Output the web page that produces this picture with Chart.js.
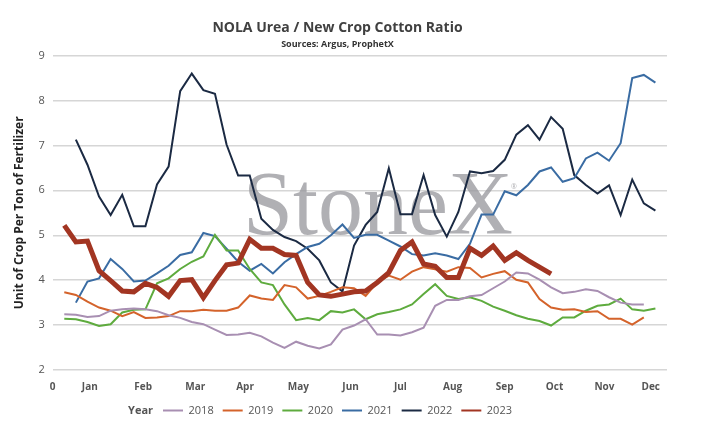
<!DOCTYPE html>
<html>
<head>
<meta charset="utf-8">
<script src="https://cdn.jsdelivr.net/npm/chart.js@4"></script>
<style>
  body { margin: 0; background: #fff; }
  #wrap { width: 717px; height: 444px; }
</style>
</head>
<body>
<div id="wrap"><canvas id="ratio-chart"></canvas></div>
<script>
// Weekly ratio by year, week 1 onwards
const years = {
    '2018': { color: '#a88fb2', start: 1, values: [3.24,3.23,3.18,3.2,3.32,3.35,3.37,3.35,3.31,3.22,3.16,3.07,3.02,2.9,2.78,2.79,2.83,2.75,2.61,2.49,2.63,2.54,2.48,2.57,2.9,2.99,3.13,2.79,2.79,2.77,2.84,2.94,3.43,3.56,3.56,3.64,3.67,3.82,3.97,4.17,4.15,4.01,3.84,3.71,3.74,3.8,3.76,3.62,3.5,3.46,3.46] },
    '2019': { color: '#d4632b', start: 1, values: [3.73,3.67,3.52,3.39,3.32,3.2,3.29,3.16,3.17,3.2,3.31,3.31,3.34,3.32,3.32,3.39,3.66,3.59,3.56,3.89,3.84,3.59,3.65,3.74,3.84,3.82,3.65,3.95,4.1,4.01,4.19,4.29,4.24,4.19,4.29,4.27,4.06,4.14,4.2,4.01,3.95,3.58,3.39,3.34,3.35,3.29,3.31,3.14,3.14,3.01,3.17] },
    '2020': { color: '#5eab3e', start: 1, values: [3.14,3.13,3.07,2.98,3.02,3.28,3.34,3.35,3.93,4.04,4.25,4.41,4.53,5.01,4.66,4.66,4.25,3.95,3.89,3.46,3.11,3.16,3.11,3.31,3.28,3.35,3.13,3.24,3.29,3.35,3.46,3.69,3.91,3.65,3.58,3.62,3.54,3.41,3.32,3.22,3.14,3.09,2.99,3.17,3.17,3.32,3.43,3.46,3.59,3.35,3.32,3.37] },
    '2021': { color: '#3a6ca3', start: 2, values: [3.5,3.97,4.04,4.47,4.25,3.97,3.99,4.15,4.32,4.56,4.62,5.05,4.98,4.7,4.41,4.21,4.36,4.15,4.4,4.58,4.74,4.81,5.0,5.24,4.94,5.01,5.01,4.88,4.75,4.58,4.55,4.6,4.55,4.47,4.81,5.46,5.46,5.98,5.89,6.12,6.42,6.51,6.19,6.27,6.71,6.84,6.66,7.05,8.5,8.57,8.4] },
    '2022': { color: '#1b2a43', start: 2, values: [7.13,6.57,5.86,5.45,5.9,5.2,5.2,6.13,6.53,8.21,8.6,8.23,8.15,7.02,6.33,6.33,5.37,5.12,4.96,4.87,4.7,4.44,3.95,3.75,4.77,5.23,5.52,6.49,5.47,5.47,6.34,5.45,4.97,5.52,6.42,6.38,6.43,6.68,7.24,7.45,7.13,7.63,7.37,6.34,6.12,5.93,6.11,5.45,6.24,5.71,5.55] },
    '2023': { color: '#a23522', start: 1, values: [5.22,4.85,4.87,4.21,3.99,3.76,3.74,3.93,3.84,3.64,3.99,4.01,3.61,3.99,4.34,4.38,4.91,4.71,4.71,4.57,4.55,3.95,3.67,3.64,3.69,3.74,3.76,3.95,4.17,4.66,4.85,4.36,4.31,4.06,4.06,4.71,4.55,4.76,4.44,4.61,4.44,4.29,4.14] }
};

// month label positions on the week scale
const months = [
    [3.2,'Jan'],[7.8,'Feb'],[12.3,'Mar'],[16.6,'Apr'],[21.2,'May'],[25.7,'Jun'],
    [30,'Jul'],[34.5,'Aug'],[39,'Sep'],[43.3,'Oct'],[47.6,'Nov'],[51.6,'Dec']
];

const datasets = Object.keys(years).map(function(y){
    let d = years[y];
    let thick = y === '2023';
    return {
        label: y,
        data: d.values.map((v, i) => ({x: d.start + i, y: v})),
        borderColor: d.color,
        backgroundColor: d.color,
        borderWidth: thick ? 5 : 2,
        pointRadius: 0,
        tension: 0,
        order: thick ? 0 : 1
    };
});

// StoneX watermark + "Year" legend label
const extras = {
    id: 'extras',
    beforeDatasetsDraw(chart){
        let ctx = chart.ctx;
        ctx.save();
        ctx.font = '90px "Liberation Serif", "DejaVu Serif", serif';
        ctx.fillStyle = 'rgba(150,150,155,0.75)';
        ctx.textAlign = 'center';
        ctx.textBaseline = 'middle';
        ctx.fillText('StoneX', 378, 210);
        ctx.font = '7px "Open Sans", sans-serif';
        ctx.fillText('®', 514, 187);
        ctx.restore();
    },
    afterDraw(chart){
        let ctx = chart.ctx;
        let box = chart.legend.legendHitBoxes[0];
        ctx.save();
        ctx.font = 'bold 11px "Open Sans", sans-serif';
        ctx.fillStyle = '#555';
        ctx.textBaseline = 'middle';
        ctx.textAlign = 'right';
        ctx.fillText('Year', box.left - 10, box.top + box.height / 2);
        ctx.restore();
    }
};

new Chart(document.getElementById('ratio-chart').getContext('2d'), {
    type: 'line',
    data: { datasets: datasets },
    options: {
        responsive: true,
        maintainAspectRatio: false,
        animation: false,
        layout: { padding: { left: 8, right: 50, top: 6, bottom: 18 } },
        plugins: {
            title: {
                display: true,
                text: 'NOLA Urea / New Crop Cotton Ratio',
                color: '#404040',
                font: { family: '"Open Sans", sans-serif', size: 14, weight: 'bold' },
                padding: { top: 14, bottom: 2 }
            },
            subtitle: {
                display: true,
                text: 'Sources: Argus, ProphetX',
                color: '#333',
                font: { family: '"Open Sans", sans-serif', size: 9, weight: 'bold' },
                padding: { bottom: 6 }
            },
            legend: {
                position: 'bottom',
                labels: {
                    boxWidth: 20,
                    boxHeight: 2,
                    padding: 9,
                    color: '#555',
                    font: { family: '"Open Sans", sans-serif', size: 11 },
                    sort: (a, b) => a.datasetIndex - b.datasetIndex,
                    generateLabels: function(chart){
                        let items = Chart.defaults.plugins.legend.labels.generateLabels(chart);
                        items.forEach(it => { it.lineWidth = 0; });
                        return items;
                    }
                }
            },
            tooltip: { enabled: false }
        },
        scales: {
            x: {
                type: 'linear',
                min: 0,
                max: 53,
                grid: { display: false },
                border: { display: false },
                afterBuildTicks: function(axis){
                    axis.ticks = [{value: 0}].concat(months.map(m => ({value: m[0]})));
                },
                ticks: {
                    autoSkip: false,
                    maxRotation: 0,
                    color: '#555',
                    font: { family: '"Open Sans", sans-serif', size: 10, weight: 'bold' },
                    callback: function(v){
                        if (v === 0) return '0';
                        let m = months.find(mm => mm[0] === v);
                        return m ? m[1] : '';
                    }
                }
            },
            y: {
                min: 2,
                max: 9,
                grid: { color: '#d6d6d6', lineWidth: 1.5, drawTicks: false },
                border: { display: false },
                ticks: {
                    stepSize: 1,
                    padding: 8,
                    color: '#555',
                    font: { family: '"Open Sans", sans-serif', size: 11 }
                },
                title: {
                    display: true,
                    text: 'Unit of Crop Per Ton of Fertilizer',
                    color: '#222',
                    font: { family: '"Open Sans", sans-serif', size: 12, weight: 'bold' }
                }
            }
        }
    },
    plugins: [extras]
});
</script>
</body>
</html>
